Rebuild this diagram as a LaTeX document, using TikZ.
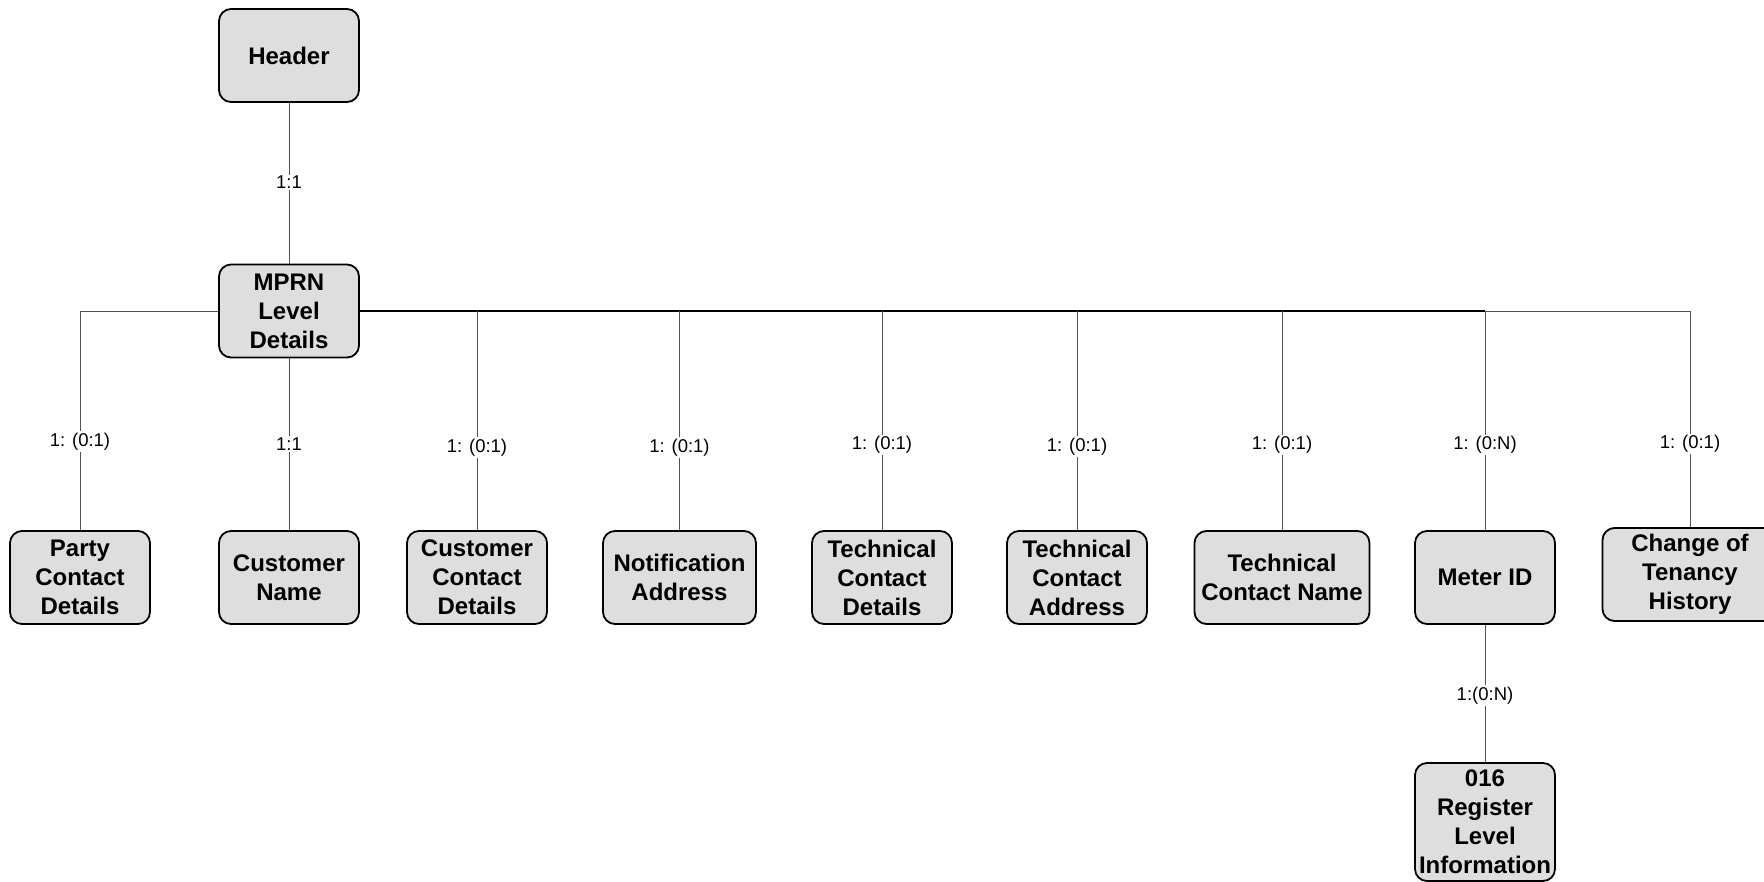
\documentclass[tikz,border=0pt]{standalone}
\usepackage{fontspec}
\setmainfont{Liberation Sans}
\begin{document}
\begin{tikzpicture}[x=1pt,y=-1pt,
  ent/.style={draw=black, line width=1.8pt, fill=boxgray, rounded corners=12pt,
    minimum width=140pt, minimum height=93pt, inner sep=0pt, align=center,
    font=\fontsize{24}{29}\selectfont\bfseries},
  lbl/.style={fill=white, inner sep=1.5pt, font=\fontsize{18.5}{20}\selectfont},
  conn/.style={draw=linegray, line width=1pt},
  bus/.style={draw=black, line width=2.2pt}]
\definecolor{boxgray}{HTML}{DEDEDE}
\definecolor{linegray}{HTML}{505050}
\useasboundingbox (0,0) rectangle (1764,881);
% entities
\node[ent] (header) at (289,55.5) {Header};
\node[ent] (mprn) at (289,311) {MPRN\\Level\\Details};
\node[ent] (party) at (80,577.5) {Party\\Contact\\Details};
\node[ent] (cname) at (289,577.5) {Customer\\Name};
\node[ent] (ccd) at (477,577.5) {Customer\\Contact\\Details};
\node[ent, minimum width=153pt] (notif) at (679.5,577.5) {Notification\\Address};
\node[ent] (tcd) at (882,577.5) {Technical\\Contact\\Details};
\node[ent] (tca) at (1077,577.5) {Technical\\Contact\\Address};
\node[ent, minimum width=175pt] (tcn) at (1282,577.5) {Technical\\Contact Name};
\node[ent] (meter) at (1485,577.5) {Meter ID};
\node[ent, minimum width=175pt] (change) at (1690,574.5) {Change of\\Tenancy\\History};
\node[ent, minimum height=118pt] (reg) at (1485,822) {016\\Register\\Level\\Information};
% connectors
\draw[conn] (header.south) -- (mprn.north);
\draw[conn] (mprn.west) -| (party.north);
\draw[conn] (mprn.south) -- (cname.north);
\draw[bus] (mprn.east) -- (mprn.east -| meter.north);
\draw[conn] (mprn.east -| meter.north) -- (mprn.east -| change.north);
\foreach \n in {ccd,notif,tcd,tca,tcn,meter,change}
  \draw[conn] (mprn.east -| \n.north) -- (\n.north);
\draw[conn] (meter.south) -- (reg.north);
% labels
\node[lbl] (l0) at (289,182.5) {1:1};
\node[lbl] (l1) at (80,441.5) {1: (0:1)};
\node[lbl] (l2) at (289,444) {1:1};
\node[lbl] (l3) at (477,447.5) {1: (0:1)};
\node[lbl] (l4) at (679.5,447.5) {1: (0:1)};
\node[lbl] (l5) at (882,445) {1: (0:1)};
\node[lbl] (l6) at (1077,446.5) {1: (0:1)};
\node[lbl] (l7) at (1282,445) {1: (0:1)};
\node[lbl] (l8) at (1485,445) {1: (0:N)};
\node[lbl] (l9) at (1690,444) {1: (0:1)};
\node[lbl] (l10) at (1485,695.5) {1:(0:N)};
\end{tikzpicture}
\end{document}
